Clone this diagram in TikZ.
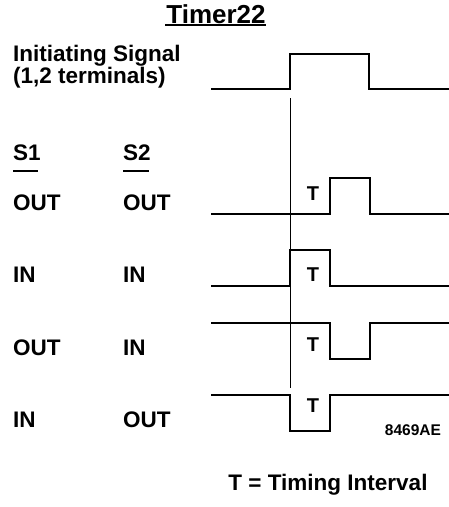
\documentclass[tikz,border=0pt]{standalone}
\usepackage{fontspec}
\setmainfont{Liberation Sans}
\usepackage{tikz}
\usetikzlibrary{positioning}

\begin{document}
\begin{tikzpicture}[
    x=1pt, y=-1pt,
    lbl/.style={
      anchor=west,
      inner sep=0pt,
      font=\fontsize{22.5}{24}\selectfont\bfseries
    },
    tlbl/.style={
      inner sep=0pt,
      font=\fontsize{20}{22}\selectfont\bfseries
    },
    wave/.style={line width=1.9pt, line join=miter},
    marker/.style={line width=0.9pt}
  ]
    \useasboundingbox (0,0) rectangle (449,507);

    % titre
    \node[inner sep=0pt, font=\fontsize{26}{28}\selectfont\bfseries] (title) at (216,14) {Timer22};
    \draw[line width=1.6pt] (165,25) -- (266,25);

    \node[lbl, align=left, font=\fontsize{22.5}{19}\selectfont\bfseries] (init) at (13,67) {Initiating Signal\\(1,2 terminals)};

    \node[lbl] (s1) at (13,153) {S1};
    \node[lbl] (s2) at (123,153) {S2};
    \draw[line width=1.4pt] (13,171) -- (38,171);
    \draw[line width=1.4pt] (123,171) -- (149,171);

    \node[lbl] (a1) at (13,203) {OUT};
    \node[lbl] (b1) at (123,203) {OUT};
    \node[lbl] (a2) at (13,275) {IN};
    \node[lbl] (b2) at (123,275) {IN};
    \node[lbl] (a3) at (13,348) {OUT};
    \node[lbl] (b3) at (123,348) {IN};
    \node[lbl] (a4) at (13,420) {IN};
    \node[lbl] (b4) at (123,420) {OUT};

    % signaux
    \draw[wave] (211,89) -- (290,89) -- (290,54) -- (369,54) -- (369,89) -- (449,89);
    \draw[wave] (211,214) -- (330,214) -- (330,178) -- (370,178) -- (370,214) -- (449,214);
    \draw[wave] (211,286) -- (290,286) -- (290,250) -- (330,250) -- (330,286) -- (449,286);
    \draw[wave] (211,323) -- (330,323) -- (330,359) -- (370,359) -- (370,323) -- (449,323);
    \draw[wave] (211,395) -- (290,395) -- (290,431) -- (330,431) -- (330,395) -- (449,395);

    \draw[marker] (290,98) -- (290,388);

    \node[tlbl] (t1) at (313,194) {T};
    \node[tlbl] (t2) at (313,275) {T};
    \node[tlbl] (t3) at (313,345) {T};
    \node[tlbl] (t4) at (313,406) {T};

    \node[inner sep=0pt, font=\fontsize{15.5}{17}\selectfont\bfseries] (code) at (413,430) {8469AE};
    \node[inner sep=0pt, font=\fontsize{22.5}{24}\selectfont\bfseries] (legend) at (328,485) {T = Timing Interval};
  \end{tikzpicture}
\end{document}
